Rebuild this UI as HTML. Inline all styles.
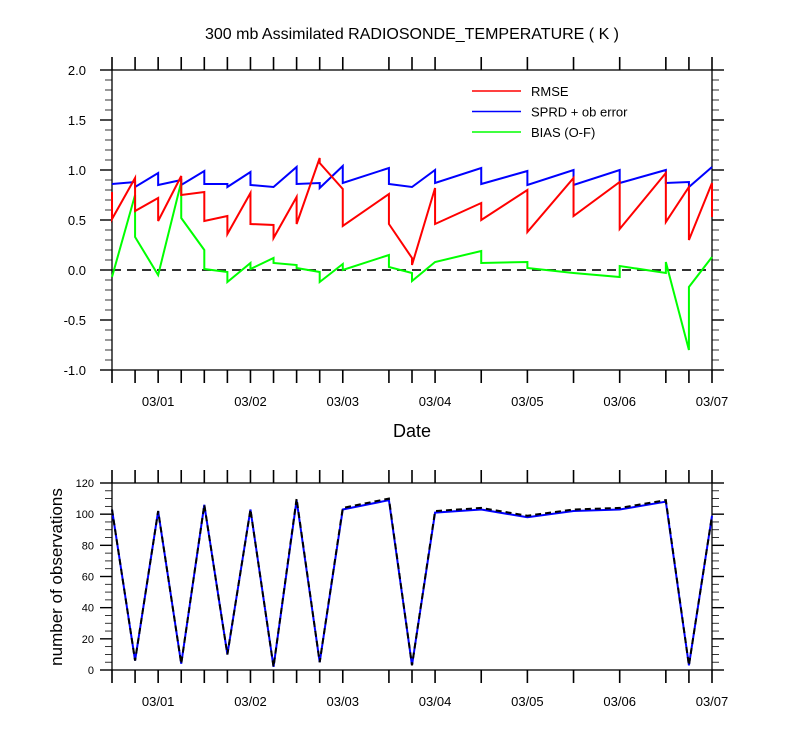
<!DOCTYPE html>
<html><head><meta charset="utf-8"><style>
body{margin:0;background:#fff;}
svg{display:block;font-family:"Liberation Sans",sans-serif;}
</style></head><body>
<svg id="chart" width="800" height="750"></svg>
<script>
// ---- data ----
const timeIdx = [0,1,2,3,4,5,6,7,8,9,10,12,13,14,16,18,20,22,24,25,26]; // 6-hour steps from 02/28 12Z
const rmseFc = [0.78,0.92,0.72,0.94,0.78,0.54,0.77,0.45,0.73,1.12,0.81,0.76,0.12,0.82,0.67,0.80,0.92,0.88,0.97,0.83,0.87];
const rmseAn = [0.51,0.59,0.49,0.75,0.49,0.36,0.46,0.32,0.46,1.07,0.44,0.46,0.05,0.46,0.50,0.38,0.54,0.41,0.48,0.30,0.53];
const sprdFc = [0.86,0.88,0.97,0.90,0.99,0.86,0.98,0.83,1.03,0.87,1.04,1.02,0.83,1.00,1.02,0.99,1.00,1.00,1.00,0.88,1.03];
const sprdAn = [0.86,0.83,0.85,0.85,0.86,0.83,0.85,0.83,0.86,0.82,0.87,0.86,0.83,0.87,0.86,0.85,0.85,0.87,0.87,0.83,1.03];
const biasFc = [-0.07,0.75,-0.05,0.88,0.20,-0.02,0.07,0.12,0.05,-0.02,0.06,0.15,-0.03,0.08,0.19,0.08,-0.03,-0.07,-0.03,-0.80,0.13];
const biasAn = [-0.07,0.33,-0.05,0.52,0.01,-0.12,0.01,0.07,0.02,-0.12,0.00,0.03,-0.11,0.08,0.07,0.02,-0.03,0.04,0.08,-0.17,0.13];
const nPossible = [103,6,102,4,106,10,103,2,110,5,104,110,3,102,104,99,103,104,109,3,99];
const nUsed = [103,6,102,4,106,10,103,2,109,5,103,109,3,101,103,98,102,103,108,3,99];
const dayLabels = ["03/01","03/02","03/03","03/04","03/05","03/06","03/07"];
const topTicks = [-1.0,-0.5,0.0,0.5,1.0,1.5,2.0];
const botTicks = [0,20,40,60,80,100,120];

const NS="http://www.w3.org/2000/svg";
const svg=document.getElementById('chart');
function el(t,a,p){const e=document.createElementNS(NS,t);for(const k in a)e.setAttribute(k,a[k]);(p||svg).appendChild(e);return e;}
const L=112,R=712;
const xs=i=>L+i*(R-L)/26;
const y1=v=>270-v*100;
const y2=v=>670-v*(187/120);

// title
let t=el('text',{x:412,y:39,'text-anchor':'middle','font-size':16});t.textContent="300 mb Assimilated RADIOSONDE_TEMPERATURE ( K )";


function frame(top,bot,name){
  const g=el('g',{});
  
  el('rect',{x:L,y:top,width:R-L,height:bot-top,fill:'none',stroke:'#000','stroke-width':1.3},g);
  timeIdx.forEach(i=>{const x=xs(i);
    el('line',{x1:x,x2:x,y1:top,y2:top-13,stroke:'#000','stroke-width':1.6},g);
    el('line',{x1:x,x2:x,y1:bot,y2:bot+13,stroke:'#000','stroke-width':1.6},g);});
  dayLabels.forEach((d,k)=>{const lt=el('text',{x:xs(2+4*k),y:bot+36,'text-anchor':'middle','font-size':13},g);lt.textContent=d;
    });
  return g;
}
// top
const g1=frame(70,370,'top');
for(let v=-1;v<=2.001;v+=0.1){const y=y1(v);const maj=Math.abs(v*2-Math.round(v*2))<0.01;
  const len=maj?12:7;
  el('line',{x1:L,x2:L-len,y1:y,y2:y,stroke:'#000','stroke-width':maj?1.4:0.8},g1);
  el('line',{x1:R,x2:R+len,y1:y,y2:y,stroke:'#000','stroke-width':maj?1.4:0.8},g1);}
topTicks.forEach(v=>{const lt=el('text',{x:86,y:y1(v)+5,'text-anchor':'end','font-size':13},g1);lt.textContent=v.toFixed(1);
  });
const zl=el('line',{x1:L,x2:R,y1:y1(0),y2:y1(0),stroke:'#333','stroke-width':2,'stroke-dasharray':'9,6'});

function saw(fc,an,col,name){let d='';timeIdx.forEach((i,k)=>{const x=xs(i);d+=(k?'L':'M')+x+','+y1(fc[k])+'L'+x+','+y1(an[k]);});
  const p=el('path',{d:d,fill:'none',stroke:col,'stroke-width':2,'stroke-linejoin':'miter'});
  }
saw(sprdFc,sprdAn,'#0000ff','sprd-line');
saw(biasFc,biasAn,'#00ff00','bias-line');
saw(rmseFc,rmseAn,'#ff0000','rmse-line');
[['RMSE','#ff0000'],['SPRD + ob error','#0000ff'],['BIAS (O-F)','#00ff00']].forEach((e,k)=>{
  const g=el('g',{});
  const y=91+k*20.5;el('line',{x1:472,x2:521,y1:y,y2:y,stroke:e[1],'stroke-width':1.5},g);
  const lt=el('text',{x:531,y:y+5,'font-size':13},g);lt.textContent=e[0];});
t=el('text',{x:412,y:437,'text-anchor':'middle','font-size':18});t.textContent="Date";

// bottom
const g2=frame(483,670,'bottom');
for(let v=0;v<=120;v+=5){const y=y2(v);const maj=v%20==0;const len=maj?12:7;
  el('line',{x1:L,x2:L-len,y1:y,y2:y,stroke:'#000','stroke-width':maj?1.4:0.8},g2);
  el('line',{x1:R,x2:R+len,y1:y,y2:y,stroke:'#000','stroke-width':maj?1.4:0.8},g2);}
botTicks.forEach(v=>{const lt=el('text',{x:94,y:y2(v)+4,'text-anchor':'end','font-size':11},g2);lt.textContent=v;
  });
t=el('text',{x:0,y:0,'text-anchor':'middle','font-size':17,transform:'translate(62,577) rotate(-90)'});t.textContent="number of observations";

function line2(vals,attrs,name){let d='';timeIdx.forEach((i,k)=>{d+=(k?'L':'M')+xs(i)+','+y2(vals[k]);});
  const p=el('path',Object.assign({d:d,fill:'none'},attrs));}
line2(nUsed,{stroke:'#0000ff','stroke-width':2},'obs-used-line');
line2(nPossible,{stroke:'#000','stroke-width':2,'stroke-dasharray':'6,4'},'obs-possible-line');
</script>
</body></html>
